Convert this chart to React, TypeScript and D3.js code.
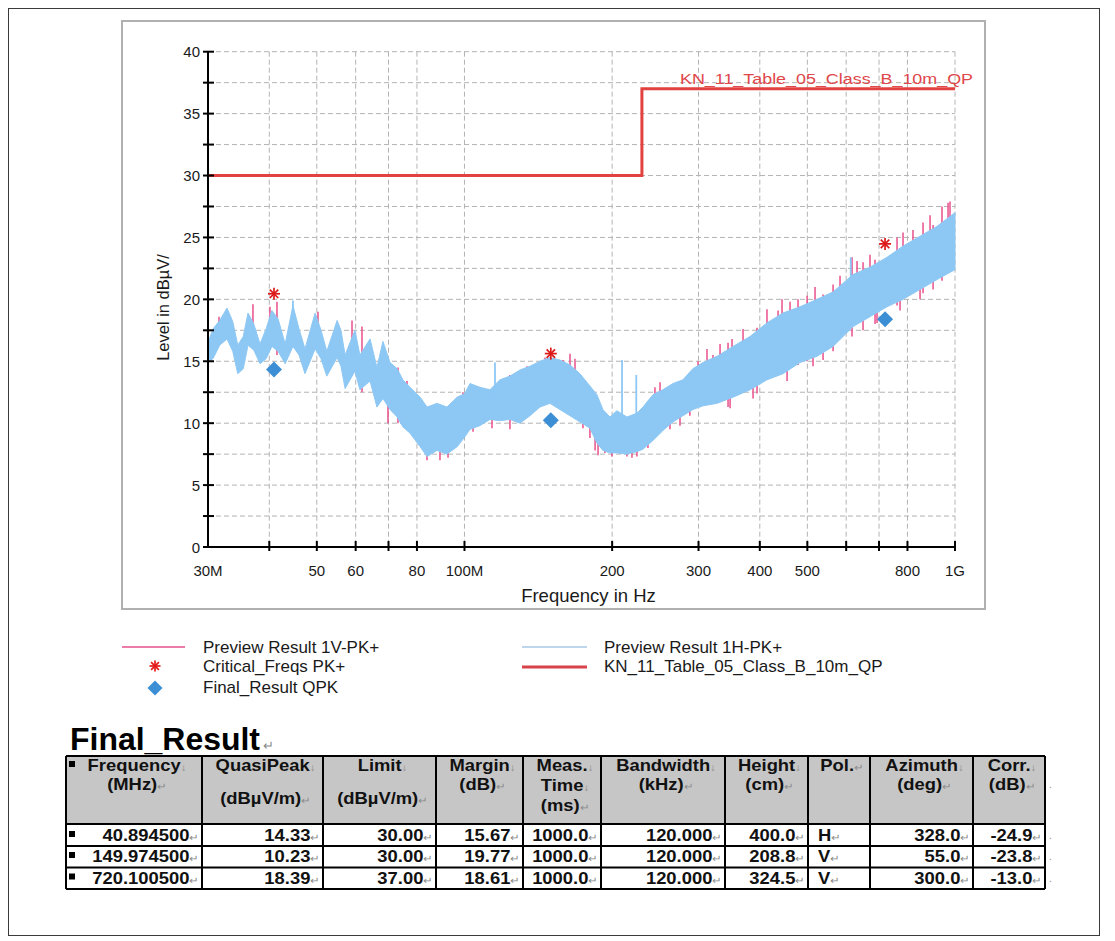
import React from 'react';
import * as d3 from 'd3';

// ---------- chart data (MHz / dBµV) ----------
const blueFreq = [30.0, 30.7, 31.7, 32.8, 33.7, 34.5, 35.4, 36.2, 37.2, 38.3, 39.4, 40.5, 41.7, 43.1, 44.7, 46.0, 47.3, 49.6, 51.0, 52.4, 55.0, 56.0, 57.1, 59.8, 61.2, 64.2, 66.3, 68.2, 70.5, 72.9, 74.9, 77.4, 81.2, 83.9, 87.9, 92.1, 96.6, 100.2, 102.6, 107.5, 112.7, 118.1, 123.8, 129.8, 136.0, 142.5, 149.4, 156.5, 164.1, 171.9, 180.2, 186.2, 191.5, 197.9, 204.5, 214.4, 224.7, 231.1, 242.2, 253.8, 266.0, 278.8, 292.1, 306.4, 327.2, 352.9, 382.1, 413.7, 446.1, 483.2, 523.3, 564.2, 619.7, 671.0, 726.8, 783.5, 848.7, 919.2, 1000];
const blueLo = [15.0, 15.2, 16.3, 16.8, 15.8, 14.0, 14.4, 16.3, 15.9, 14.8, 15.2, 16.2, 15.8, 14.8, 16.2, 15.5, 14.0, 16.0, 15.2, 13.8, 15.3, 14.6, 12.8, 14.2, 12.7, 13.4, 11.3, 12.0, 11.1, 10.5, 9.7, 9.2, 8.1, 7.3, 7.8, 7.5, 8.1, 8.9, 9.5, 9.8, 10.3, 10.2, 10.3, 10.0, 10.6, 11.3, 11.6, 11.1, 10.6, 10.1, 9.6, 8.4, 7.8, 7.6, 7.6, 7.5, 7.7, 7.9, 8.6, 9.4, 10.1, 10.6, 11.1, 11.4, 11.6, 12.1, 12.7, 13.5, 14.0, 14.9, 15.4, 16.2, 17.8, 18.6, 19.4, 20.0, 20.8, 21.6, 22.4];
const blueHi = [16.5, 17.6, 18.3, 19.3, 18.2, 16.3, 17.0, 18.9, 18.0, 16.4, 17.6, 19.1, 18.4, 16.4, 19.5, 17.6, 16.0, 18.9, 17.5, 15.8, 18.3, 17.5, 15.5, 17.5, 15.5, 16.8, 14.5, 16.6, 14.9, 14.4, 13.5, 12.9, 12.1, 11.3, 11.6, 11.3, 12.1, 12.4, 13.2, 12.9, 12.7, 13.5, 13.8, 14.3, 14.6, 15.0, 15.3, 15.1, 14.7, 14.0, 13.0, 12.3, 11.1, 10.5, 11.0, 10.5, 10.8, 11.3, 12.3, 12.7, 13.2, 13.5, 14.4, 14.9, 15.4, 16.2, 17.0, 18.1, 18.9, 19.4, 20.0, 20.6, 22.0, 22.6, 23.4, 24.3, 25.1, 25.9, 27.0];

const blueSpikeFreq = [44.7, 115.4, 209.5, 224.0, 613.0];
const blueSpikeLo = [17.0, 12.0, 10.0, 10.0, 19.0];
const blueSpikeHi = [19.9, 14.9, 15.1, 13.9, 23.4];

const pinkSpikeFreq = [31.59, 37.05, 40.13, 41.47, 50.27, 58.98, 61.81, 69.83, 73.19, 76.35, 83.87, 89.14, 92.56, 97.91, 99.3, 104.1, 113.8, 123.8, 134.1, 140.5, 145.9, 158.8, 164.1, 174.4, 184.6, 193.3, 204.5, 214.4, 224.7, 244.5, 262.4, 288.0, 312.2, 321.1, 344.6, 351.1, 394.8, 435.8, 478.6, 499.5, 538.3, 564.2, 616.7, 649.4, 687.0, 761.8, 860.7, 902.2, 940.8, 976.8,
  331.9, 369.7, 413.7, 444.0, 461.0, 518.4, 582.9, 631.4, 671.0, 783.5, 821.0, 889.5, 967.9,
  347.9, 387.5, 454.6, 513.5, 693.4, 772.6, 848.7,
  168.0, 180.2, 187.2, 199.8, 219.5, 236.6, 250.4, 275.0, 299.3];
const pinkSpikeLo = [16.5, 16.0, 16.0, 15.5, 16.0, 14.0, 12.5, 10.0, 10.0, 10.5, 7.0, 7.0, 7.2, 9.0, 9.0, 9.3, 9.6, 9.5, 11.0, 12.0, 12.5, 12.0, 12.0, 9.6, 7.8, 7.6, 7.6, 7.3, 7.3, 11.0, 9.5, 10.6, 13.0, 13.0, 11.3, 13.0, 12.4, 14.0, 14.7, 15.0, 15.1, 15.8, 17.0, 17.5, 18.0, 19.5, 20.5, 20.8, 21.5, 22.6,
  14.2, 15.0, 16.5, 17.4, 17.6, 18.5, 19.4, 20.6, 21.2, 22.8, 23.2, 24.1, 25.3,
  11.2, 12.0, 13.4, 14.6, 18.1, 19.1, 20.0,
  12.5, 8.8, 7.4, 7.3, 7.2, 8.0, 11.8, 9.8, 13.5];
const pinkSpikeHi = [18.6, 19.6, 19.4, 19.8, 19.0, 18.3, 17.8, 13.0, 14.5, 13.4, 9.0, 9.5, 9.5, 12.2, 12.5, 11.0, 11.5, 13.9, 14.6, 14.5, 15.3, 15.1, 15.6, 12.0, 10.0, 9.5, 9.0, 9.0, 8.5, 12.9, 11.0, 12.0, 16.0, 15.5, 16.5, 16.8, 17.7, 19.1, 20.0, 20.3, 20.4, 21.2, 23.4, 23.0, 23.2, 25.0, 26.2, 26.0, 27.5, 27.9,
  16.4, 17.6, 19.2, 20.0, 19.8, 21.0, 21.9, 23.1, 23.6, 25.4, 25.6, 26.8, 27.8,
  13.2, 14.0, 15.4, 16.4, 20.0, 21.0, 22.0,
  15.2, 10.5, 9.2, 9.0, 9.0, 9.8, 13.3, 11.3, 15.0];

const limitFreq = [30, 230, 230, 1000];
const limitLevel = [30, 30, 37, 37];
const limitName = 'KN_11_Table_05_Class_B_10m_QP';

const criticalFreq = [40.8945, 149.9745, 720.1005];
const criticalLevel = [20.45, 15.62, 24.48];
const finalFreq = [40.8945, 149.9745, 720.1005];
const finalLevel = [14.33, 10.23, 18.39];

const xGridValues = [30, 40, 50, 60, 70, 80, 100, 200, 300, 400, 500, 600, 700, 800, 1000];
const xLabelValues = [30, 50, 60, 80, 100, 200, 300, 400, 500, 800, 1000];
const xLabelTexts = ['30M', '50', '60', '80', '100M', '200', '300', '400', '500', '800', '1G'];
const yLabelValues = [0, 5, 10, 15, 20, 25, 30, 35, 40];
const yMinorValues = [2.5, 7.5, 12.5, 17.5, 22.5, 27.5, 32.5, 37.5];

const legendLeft = ['Preview Result 1V-PK+', 'Critical_Freqs PK+', 'Final_Result QPK'];
const legendRight = ['Preview Result 1H-PK+', limitName];

// ---------- table data ----------
const tableHeaders = [
  ['Frequency', '(MHz)'],
  ['QuasiPeak', '(dBµV/m)'],
  ['Limit', '(dBµV/m)'],
  ['Margin', '(dB)'],
  ['Meas.', 'Time', '(ms)'],
  ['Bandwidth', '(kHz)'],
  ['Height', '(cm)'],
  ['Pol.'],
  ['Azimuth', '(deg)'],
  ['Corr.', '(dB)'],
];
const resFrequency = [40.8945, 149.9745, 720.1005];
const resQuasiPeak = [14.33, 10.23, 18.39];
const resLimit = [30.0, 30.0, 37.0];
const resMargin = [15.67, 19.77, 18.61];
const resMeasTime = [1000.0, 1000.0, 1000.0];
const resBandwidth = [120.0, 120.0, 120.0];
const resHeight = [400.0, 208.8, 324.5];
const resPol = ['H', 'V', 'V'];
const resAzimuth = [328.0, 55.0, 300.0];
const resCorr = [-24.9, -23.8, -13.0];

const FONT = "'Liberation Sans', Arial, Helvetica, sans-serif";
const PINK = '#e9508c';
const BLUE = '#8dc8f5';
const RED = '#e2423f';
const DIAMOND = '#3c8fd4';

function Txt(props: any) {
  const { x, y, sx = 1, anchor = 'start', size = 15, weight = 'normal', fill = '#1a1a1a', children, rotate = 0, textLength } = props;
  const tf = `translate(${x},${y})${rotate ? ` rotate(${rotate})` : ''} scale(${sx},1)`;
  return (
    <text transform={tf} textAnchor={anchor} fontSize={size} fontWeight={weight} fill={fill} fontFamily={FONT}
      textLength={textLength} lengthAdjust={textLength ? 'spacingAndGlyphs' : undefined}>
      {children}
    </text>
  );
}

function Star({ cx, cy, r = 6, color = '#dd1a1a' }: any) {
  const a = r * 0.7071;
  return (
    <g stroke={color} strokeWidth={1.7}>
      <line x1={cx - r} y1={cy} x2={cx + r} y2={cy} />
      <line x1={cx} y1={cy - r} x2={cx} y2={cy + r} />
      <line x1={cx - a} y1={cy - a} x2={cx + a} y2={cy + a} />
      <line x1={cx - a} y1={cy + a} x2={cx + a} y2={cy - a} />
    </g>
  );
}

function Diamond({ cx, cy, r = 8 }: any) {
  return <path d={`M${cx},${cy - r}L${cx + r},${cy}L${cx},${cy + r}L${cx - r},${cy}Z`} fill={DIAMOND} />;
}

export default function App() {
  const x = d3.scaleLog().domain([30, 1000]).range([208, 955]);
  const y = d3.scaleLinear().domain([0, 40]).range([547, 51.7]);
  const idx = d3.range(blueFreq.length);
  const band = d3.area<number>()
    .x((i) => x(blueFreq[i]))
    .y0((i) => y(blueLo[i]))
    .y1((i) => y(blueHi[i]))(idx) as string;
  const limitPath = d3.line<number>()
    .x((i) => x(limitFreq[i]))
    .y((i) => y(limitLevel[i]))(d3.range(limitFreq.length)) as string;

  const x0 = x(30), x1 = x(1000), yTop = y(40), yBot = y(0);

  // table geometry
  const colX = [66, 202, 323, 436, 523, 601, 725, 808, 870, 973, 1045];
  const rowY = [756, 824, 846, 867.5, 889];
  const rowBase = [841, 862, 883.5];
  const TS = 16, TSX = 1.15;

  const rows = resFrequency.map((_, r) => [
    resFrequency[r].toFixed(6),
    resQuasiPeak[r].toFixed(2),
    resLimit[r].toFixed(2),
    resMargin[r].toFixed(2),
    resMeasTime[r].toFixed(1),
    resBandwidth[r].toFixed(3),
    resHeight[r].toFixed(1),
    resPol[r],
    resAzimuth[r].toFixed(1),
    resCorr[r].toFixed(1),
  ]);

  const headerBase = (c: number, l: number) => {
    if (c === 4) return [771, 791, 811][l];
    if (c === 1 || c === 2) return l === 0 ? 771 : 804;
    return l === 0 ? 771 : 790;
  };

  return (
    <svg width={1115} height={941} style={{ position: 'absolute', left: 0, top: 0, background: '#fff' }}>
      <rect x={0} y={0} width={1115} height={941} fill="#fff" />
      <rect x={8.5} y={8.5} width={1091} height={927} fill="none" stroke="#3a3a3a" strokeWidth={1} />
      {/* chart panel */}
      <rect x={122} y={21} width={863} height={588} fill="#fff" stroke="#b0b0b0" strokeWidth={2} />

      {/* grid */}
      <g stroke="#b3b3b3" strokeWidth={1} strokeDasharray="5,3">
        {[...yLabelValues.slice(1), ...yMinorValues].map((v) => (
          <line key={'gy' + v} x1={x0} x2={x1} y1={y(v)} y2={y(v)} />
        ))}
        {xGridValues.slice(1).map((f) => (
          <line key={'gx' + f} x1={x(f)} x2={x(f)} y1={yTop} y2={yBot} />
        ))}
      </g>

      {/* traces */}
      <g stroke={PINK} strokeWidth={1.5}>
        {pinkSpikeFreq.map((f, i) => (
          <line key={'ps' + i} x1={x(f)} x2={x(f)} y1={y(pinkSpikeLo[i])} y2={y(pinkSpikeHi[i])} />
        ))}
      </g>
      <path d={band} fill={BLUE} stroke={BLUE} strokeWidth={1} />
      <g stroke={BLUE} strokeWidth={1.8}>
        {blueSpikeFreq.map((f, i) => (
          <line key={'bs' + i} x1={x(f)} x2={x(f)} y1={y(blueSpikeLo[i])} y2={y(blueSpikeHi[i])} />
        ))}
      </g>

      {/* limit */}
      <path d={limitPath} fill="none" stroke={RED} strokeWidth={3} />
      <Txt x={680} y={84} size={15.5} fill="#e0474a" textLength={293}>{limitName}</Txt>

      {/* markers */}
      {criticalFreq.map((f, i) => <Star key={'st' + i} cx={x(f)} cy={y(criticalLevel[i])} />)}
      {finalFreq.map((f, i) => <Diamond key={'dm' + i} cx={x(f)} cy={y(finalLevel[i])} />)}

      {/* axes */}
      <g stroke="#000" strokeWidth={2}>
        <line x1={x0} x2={x0} y1={yTop} y2={yBot + 1} />
        <line x1={x0 - 1} x2={x1} y1={yBot} y2={yBot} />
        {[...yLabelValues, ...yMinorValues].map((v) => (
          <line key={'ty' + v} x1={x0 - 5} x2={x0 + 6} y1={y(v)} y2={y(v)} />
        ))}
        {xGridValues.slice(1).map((f) => (
          <line key={'tx' + f} x1={x(f)} x2={x(f)} y1={yBot - 6} y2={yBot + 4} />
        ))}
      </g>
      {yLabelValues.map((v) => (
        <Txt key={'ly' + v} x={200} y={y(v) + 5.5} anchor="end" size={15}>{String(v)}</Txt>
      ))}
      {xLabelValues.map((f, i) => (
        <Txt key={'lx' + f} x={x(f)} y={576} anchor="middle" size={15}>{xLabelTexts[i]}</Txt>
      ))}
      <Txt x={588.5} y={602} anchor="middle" size={18.5}>Frequency in Hz</Txt>
      <Txt x={169} y={307.5} anchor="middle" size={16.5} rotate={-90}>Level in dBµV/</Txt>

      {/* legend */}
      <line x1={122} x2={185} y1={647} y2={647} stroke={PINK} strokeWidth={1.5} />
      <Star cx={155} cy={666} r={5.5} color="#e51c1c" />
      <Diamond cx={155} cy={688} r={7.5} />
      {legendLeft.map((t, i) => (
        <Txt key={'lgl' + i} x={203} y={[653, 672, 693][i]} size={17}>{t}</Txt>
      ))}
      <line x1={522} x2={587} y1={647} y2={647} stroke="#a9c9e6" strokeWidth={1.5} />
      <line x1={522} x2={587} y1={667} y2={667} stroke="#d8424a" strokeWidth={3} />
      {legendRight.map((t, i) => (
        <Txt key={'lgr' + i} x={604} y={[653, 672][i]} size={17}>{t}</Txt>
      ))}

      {/* table title */}
      <Txt x={70} y={750} size={32} weight="bold" fill="#000" textLength={190}>Final_Result</Txt>
      <Txt x={263} y={750} size={13} fill="#8a8a8a">↵</Txt>

      {/* table */}
      <rect x={colX[0]} y={rowY[0]} width={colX[colX.length - 1] - colX[0]} height={rowY[1] - rowY[0]} fill="#c6c6c6" />
      <g stroke="#000" strokeWidth={2}>
        {rowY.map((ry, i) => (
          <line key={'hr' + i} x1={colX[0]} x2={colX[colX.length - 1]} y1={ry} y2={ry} />
        ))}
        {colX.map((cx, i) => (
          <line key={'vr' + i} x1={cx} x2={cx} y1={rowY[0]} y2={rowY[rowY.length - 1]} />
        ))}
      </g>
      {[764, ...rowBase.map((b) => b - 7)].map((cy, i) => (
        <rect key={'bl' + i} x={69} y={cy - 3} width={6} height={6} fill="#000" />
      ))}
      {tableHeaders.map((lines, c) => {
        const cx = (colX[c] + colX[c + 1]) / 2;
        return lines.map((t, l) => {
          const last = l === lines.length - 1;
          return (
            <text key={`h${c}-${l}`} transform={`translate(${cx + 3},${headerBase(c, l)}) scale(${TSX},1)`}
              textAnchor="middle" fontFamily={FONT} fontSize={TS} fontWeight="bold" fill="#111">
              {t}
              <tspan fontSize={10} fontWeight="normal" fill="#8a8a8a">{last ? '↵' : '↓'}</tspan>
            </text>
          );
        });
      })}
      {rows.map((vals, r) =>
        vals.map((v, c) => {
          if (c === 7) {
            return (
              <text key={`d${r}-${c}`} transform={`translate(${colX[c] + 10},${rowBase[r]}) scale(${TSX},1)`}
                fontFamily={FONT} fontSize={TS} fontWeight="bold" fill="#111">
                {v}<tspan fontSize={10} fontWeight="normal" fill="#8a8a8a">↵</tspan>
              </text>
            );
          }
          return (
            <text key={`d${r}-${c}`} transform={`translate(${colX[c + 1] - 3},${rowBase[r]}) scale(${TSX},1)`}
              textAnchor="end" fontFamily={FONT} fontSize={TS} fontWeight="bold" fill="#111">
              {v}<tspan fontSize={10} fontWeight="normal" fill="#8a8a8a">↵</tspan>
            </text>
          );
        })
      )}
      {[790, ...rowBase].map((b, i) => (
        <Txt key={'em' + i} x={1049} y={b - 2} size={10} fill="#8a8a8a">.</Txt>
      ))}
    </svg>
  );
}
